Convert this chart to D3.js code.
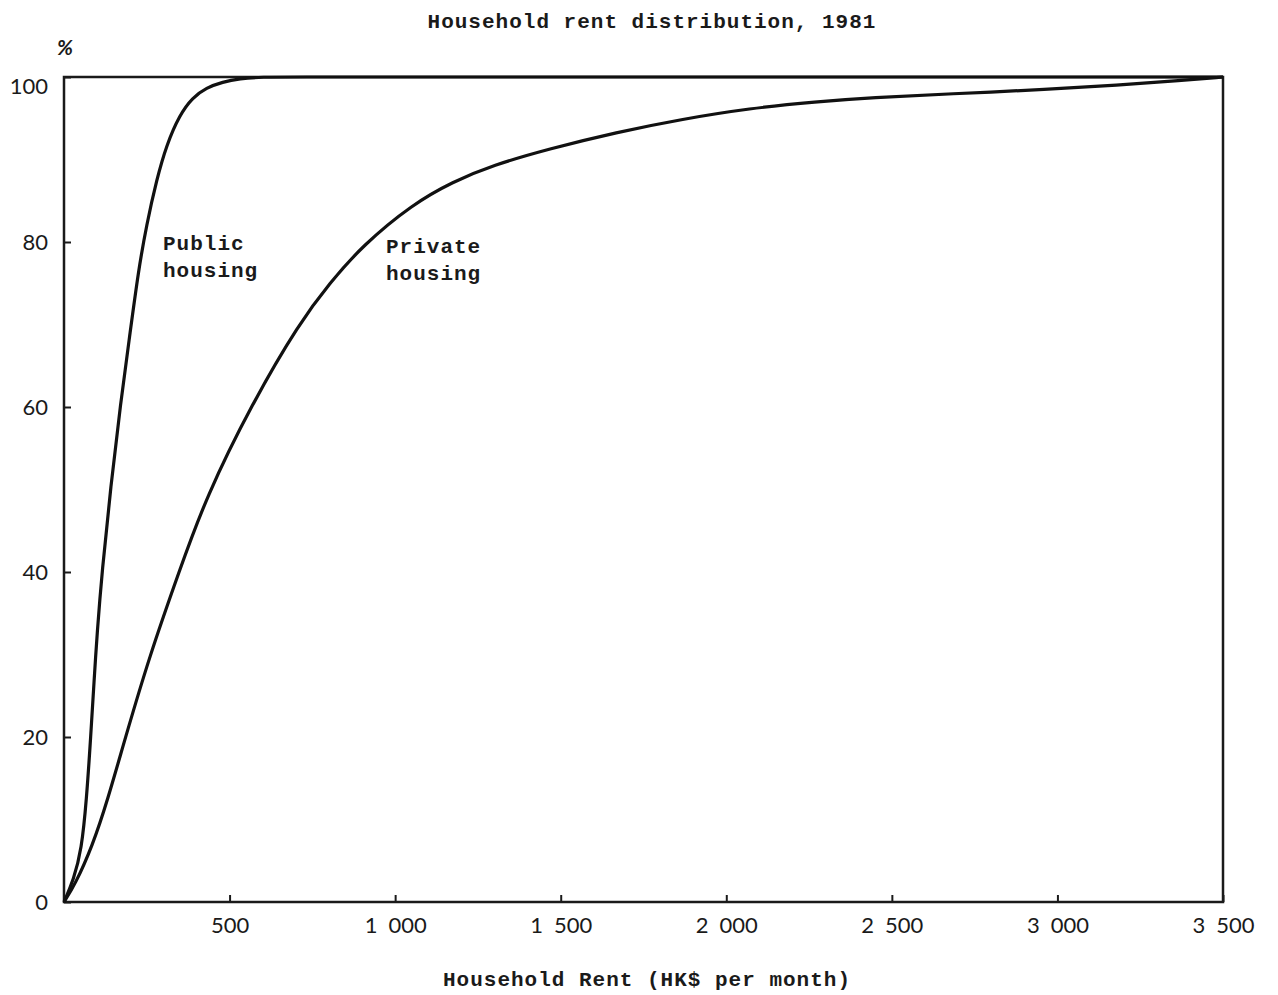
<!DOCTYPE html>
<html>
<head>
<meta charset="utf-8">
<script src="https://cdn.jsdelivr.net/npm/d3@7"></script>
<style>
    body { margin: 0; background: #fff; }
    .typed { font-family: "Liberation Mono", "DejaVu Sans Mono", monospace; font-weight: bold; font-size: 21px; letter-spacing: 1px; fill: #1a1a1a; }
    .tick text { font-family: Lato, "Noto Sans", sans-serif; font-size: 22px; fill: #1a1a1a; }
    .tick line { stroke: #1a1a1a; stroke-width: 2px; }
</style>
</head>
<body>
<div id="chart"></div>
<script>
//cumulative share of households (%) by monthly rent (HK$)
const public_rent = [0, 29, 53, 68, 80, 91, 100, 115, 141, 171, 198, 225, 249, 280, 310, 349, 388, 430, 479, 530, 597, 700, 1000, 3500]
const public_pct = [0, 2.7, 6.3, 12.4, 19.6, 26.9, 32.6, 40.1, 50.3, 60.5, 68.5, 76.6, 82.0, 87.6, 91.8, 95.4, 97.5, 98.7, 99.4, 99.8, 100, 100, 100, 100]

const private_rent = [0, 32, 86, 132, 183, 258, 349, 428, 569, 711, 802, 902, 1053, 1174, 1294, 1466, 1668, 1868, 2070, 2272, 2441, 2674, 2976, 3178, 3377, 3500]
const private_pct = [0, 2.0, 6.8, 12.4, 19.6, 29.8, 40.2, 49.0, 60.5, 70.2, 75.0, 79.6, 84.6, 87.3, 89.3, 91.3, 93.3, 94.9, 96.2, 97.0, 97.5, 97.95, 98.5, 99.0, 99.6, 100]

const x_ticks = [500, 1000, 1500, 2000, 2500, 3000, 3500]
const y_ticks = [0, 20, 40, 60, 80, 100]

const series = [
    { name: "public", label: ["Public", "housing"], rent: public_rent, pct: public_pct, lx: 163, ly: 250 },
    { name: "private", label: ["Private", "housing"], rent: private_rent, pct: private_pct, lx: 386, ly: 253 }
]

//set margins height and width
const complete_width = 1278,
    complete_height = 995,
    margin = { top: 77, right: 55, bottom: 93, left: 64 },
    width = complete_width - margin.left - margin.right,
    height = complete_height - margin.top - margin.bottom;

const svg = d3.select("#chart")
    .append("svg")
    .attr("width", complete_width)
    .attr("height", complete_height)

const g = svg.append("g")
    .attr("transform", `translate(${margin.left},${margin.top})`)

const x = d3.scaleLinear()
    .domain([0, 3500])
    .range([0, width])
const y = d3.scaleLinear()
    .domain([0, 100])
    .range([height, 0])

//x axis, ticks pointing inward, thousands split by a space
const x_axis = d3.axisBottom(x)
    .tickValues(x_ticks)
    .tickSizeInner(-7)
    .tickSizeOuter(0)
    .tickPadding(15)
    .tickFormat(d => d3.format(",")(d).replace(",", "\u2002"))
g.append("g")
    .attr("transform", `translate(0,${height})`)
    .call(x_axis)
    .call(a => a.select(".domain").remove())

//y axis
const y_axis = d3.axisLeft(y)
    .tickValues(y_ticks)
    .tickSizeInner(-7)
    .tickSizeOuter(0)
    .tickPadding(16)
g.append("g")
    .call(y_axis)
    .call(a => a.select(".domain").remove())
    .call(a => a.selectAll(".tick text").filter(d => d == 100).attr("dy", "0.75em"))

//frame
g.append("rect")
    .attr("width", width)
    .attr("height", height)
    .attr("fill", "none")
    .attr("stroke", "#1a1a1a")
    .attr("stroke-width", 2.5)

//curves (basis smooths the hand-read points a little)
const line = d3.line()
    .x(d => x(d[0]))
    .y(d => y(d[1]))
    .curve(d3.curveBasis)

g.selectAll(".curve")
    .data(series)
    .join("path")
    .attr("class", "curve")
    .attr("fill", "none")
    .attr("stroke", "#111")
    .attr("stroke-width", 3.2)
    .attr("stroke-linejoin", "round")
    .attr("d", d => line(d.rent.map((r, i) => [r, d.pct[i]])))

//curve labels
svg.selectAll(".curve_label")
    .data(series)
    .join("text")
    .attr("class", "typed curve_label")
    .attr("x", d => d.lx)
    .attr("y", d => d.ly)
    .selectAll("tspan")
    .data(d => d.label.map(t => ({ t: t, x: d.lx })))
    .join("tspan")
    .attr("x", d => d.x)
    .attr("dy", (d, i) => i == 0 ? 0 : 27)
    .text(d => d.t)

//titles
svg.append("text")
    .attr("class", "typed")
    .attr("x", 652)
    .attr("y", 28)
    .attr("text-anchor", "middle")
    .text("Household rent distribution, 1981")

svg.append("text")
    .attr("class", "typed")
    .attr("x", 647)
    .attr("y", 986)
    .attr("text-anchor", "middle")
    .text("Household Rent (HK$ per month)")

svg.append("text")
    .attr("x", 65)
    .attr("y", 55)
    .attr("text-anchor", "middle")
    .style("font-family", "Lato, sans-serif")
    .style("font-size", "21px")
    .style("font-style", "italic")
    .style("font-weight", "bold")
    .style("fill", "#1a1a1a")
    .text("%")
</script>
</body>
</html>
